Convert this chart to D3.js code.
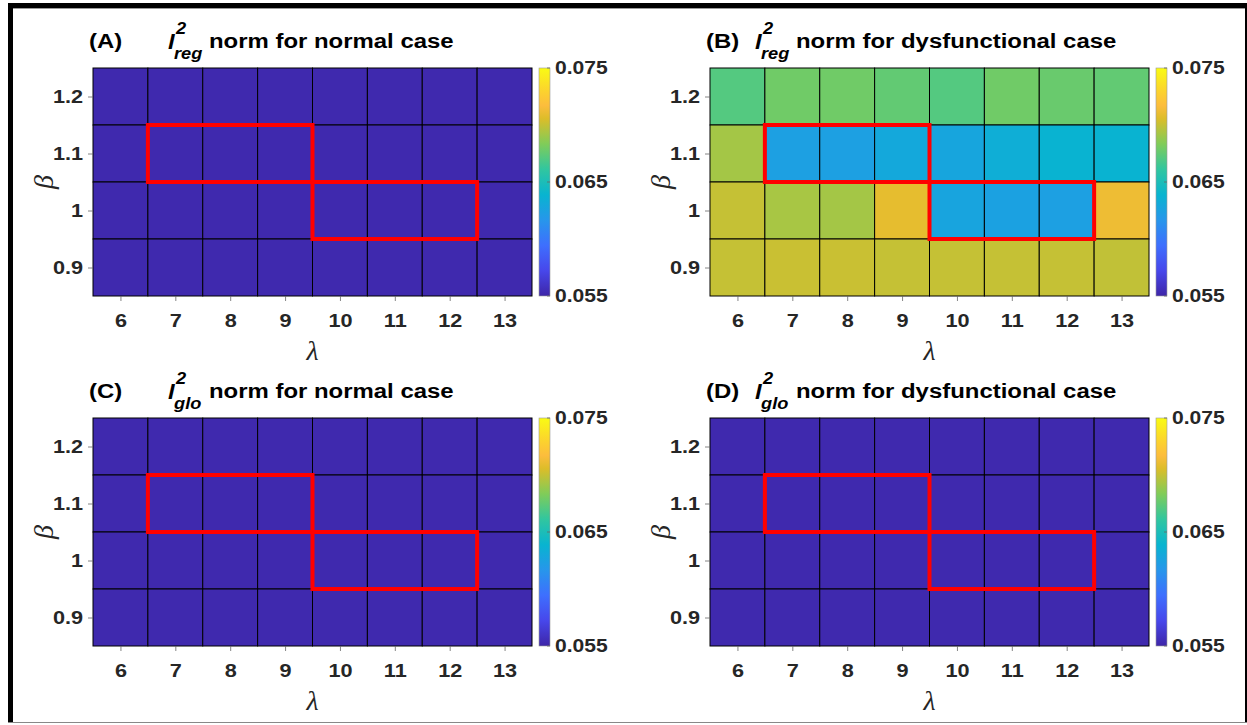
<!DOCTYPE html>
<html lang="en">
<head>
<meta charset="UTF-8">
<title>l2 norm heatmaps</title>
<script src="https://d3js.org/d3.v7.min.js"></script>
<style>
  body { margin: 0; background: #fff; }
  text { font-family: "Liberation Sans", Arial, Helvetica, sans-serif; fill: #262626; }
  .title text { fill: #000; font-weight: bold; }
  .greek { font-family: "Liberation Serif", "DejaVu Serif", serif; font-style: italic; }
</style>
</head>
<body>
<svg id="fig"></svg>
<script>
// grid axes
const lambdas = [6, 7, 8, 9, 10, 11, 12, 13];
const betas = [1.2, 1.1, 1, 0.9];          // row order, top to bottom
const yTicks = [0.9, 1, 1.1, 1.2];
const cbTicks = [0.055, 0.065, 0.075];
const cRange = [0.055, 0.075];

// l2 norms, one row per beta (1.2, 1.1, 1, 0.9), one column per lambda (6..13)
const regNormal = [
  [0.0552, 0.0552, 0.0552, 0.0552, 0.0552, 0.0552, 0.0552, 0.0552],
  [0.0552, 0.0552, 0.0552, 0.0552, 0.0552, 0.0552, 0.0552, 0.0552],
  [0.0552, 0.0552, 0.0552, 0.0552, 0.0552, 0.0552, 0.0552, 0.0552],
  [0.0552, 0.0552, 0.0552, 0.0552, 0.0552, 0.0552, 0.0552, 0.0552]
];
const regDys = [
  [0.0671, 0.0679, 0.0679, 0.0675, 0.0671, 0.0679, 0.0677, 0.0675],
  [0.0692, 0.0624, 0.0624, 0.0630, 0.0628, 0.0634, 0.0638, 0.0638],
  [0.0700, 0.0693, 0.0692, 0.0709, 0.0627, 0.0625, 0.0624, 0.0712],
  [0.0700, 0.0701, 0.0701, 0.0700, 0.0700, 0.0700, 0.0700, 0.0699]
];
const gloNormal = [
  [0.0552, 0.0552, 0.0552, 0.0552, 0.0552, 0.0552, 0.0552, 0.0552],
  [0.0552, 0.0552, 0.0552, 0.0552, 0.0552, 0.0552, 0.0552, 0.0552],
  [0.0552, 0.0552, 0.0552, 0.0552, 0.0552, 0.0552, 0.0552, 0.0552],
  [0.0552, 0.0552, 0.0552, 0.0552, 0.0552, 0.0552, 0.0552, 0.0552]
];
const gloDys = [
  [0.0552, 0.0552, 0.0552, 0.0552, 0.0552, 0.0552, 0.0552, 0.0552],
  [0.0552, 0.0552, 0.0552, 0.0552, 0.0552, 0.0552, 0.0552, 0.0552],
  [0.0552, 0.0552, 0.0552, 0.0552, 0.0552, 0.0552, 0.0552, 0.0552],
  [0.0552, 0.0552, 0.0552, 0.0552, 0.0552, 0.0552, 0.0552, 0.0552]
];

// highlighted regions (lambda range, beta range)
const boxes = [
  { l0: 6.5, l1: 9.5, b0: 1.05, b1: 1.15 },
  { l0: 9.5, l1: 12.5, b0: 0.95, b1: 1.05 }
];

// parula-like colormap stops
const cmapT = [0, 0.111, 0.222, 0.333, 0.444, 0.556, 0.667, 0.778, 0.835, 0.889, 1];
const cmapC = ["#3e26a8", "#4747eb", "#3e6ffe", "#2796eb", "#08b4d0", "#31c69f",
               "#80cc59", "#dcbd29", "#fcbd3d", "#fccf30", "#f9fb14"];

const W = 1247, H = 725;
const S = 1.14;          // the figure is slightly stretched horizontally
const PW = 439, PH = 228;

const svg = d3.select("#fig").attr("width", W).attr("height", H);

// frame
svg.append("rect").attr("x", 8).attr("y", 3).attr("width", 1239).attr("height", 5).attr("fill", "#000");
svg.append("rect").attr("x", 8).attr("y", 3).attr("width", 5).attr("height", 720).attr("fill", "#000");
svg.append("rect").attr("x", 1245).attr("y", 3).attr("width", 2).attr("height", 720).attr("fill", "#000");
svg.append("line").attr("x1", 13).attr("x2", 1245).attr("y1", 8.5).attr("y2", 8.5).attr("stroke", "#999");
svg.append("line").attr("x1", 8).attr("x2", 1247).attr("y1", 722.5).attr("y2", 722.5).attr("stroke", "#888");

const color = d3.scaleLinear()
  .domain(cmapT.map(t => cRange[0] + t * (cRange[1] - cRange[0])))
  .range(cmapC)
  .interpolate(d3.interpolateRgb)
  .clamp(true);

// gradient for colorbars
const grad = svg.append("defs").append("linearGradient")
  .attr("id", "cbar").attr("x1", 0).attr("x2", 0).attr("y1", 1).attr("y2", 0);
grad.selectAll("stop").data(cmapT).join("stop")
  .attr("offset", d => d)
  .attr("stop-color", (d, i) => cmapC[i]);

const panels = [
  { tag: "(A)", sub: "reg", name: "norm for normal case", data: regNormal, left: 93, top: 68, lOff: 75, nOff: 116 },
  { tag: "(B)", sub: "reg", name: "norm for dysfunctional case", data: regDys, left: 710, top: 68, lOff: 45, nOff: 86 },
  { tag: "(C)", sub: "glo", name: "norm for normal case", data: gloNormal, left: 93, top: 418, lOff: 75, nOff: 116 },
  { tag: "(D)", sub: "glo", name: "norm for dysfunctional case", data: gloDys, left: 710, top: 418, lOff: 45, nOff: 86 }
];

function stext(g, x, y, str, size) {
  return g.append("text")
    .attr("transform", `translate(${x},${y}) scale(${S},1)`)
    .attr("font-size", size)
    .text(str);
}

panels.forEach(p => {
  const g = svg.append("g");
  const x = d3.scaleLinear().domain([5.5, 13.5]).range([p.left, p.left + PW]);
  const y = d3.scaleLinear().domain([0.85, 1.25]).range([p.top + PH, p.top]);

  // title: (X)  l^2_sub  norm for ...
  const t = g.append("g").attr("class", "title");
  const base = p.top - 20;
  const lx = p.left + p.lOff;
  stext(t, p.left - 4, base, p.tag, 21);
  stext(t, lx, base + 1, "l", 21).attr("font-style", "italic");
  stext(t, lx + 8, base - 14, "2", 16).attr("font-style", "italic");
  stext(t, lx + 6, base + 11, p.sub, 16).attr("font-style", "italic");
  stext(t, p.left + p.nOff, base, p.name, 21);

  // cells
  const cells = [];
  p.data.forEach((row, i) => row.forEach((v, j) => cells.push({ l: lambdas[j], b: betas[i], v })));
  g.append("g").selectAll("rect").data(cells).join("rect")
    .attr("x", d => x(d.l - 0.5))
    .attr("y", d => y(d.b + 0.05))
    .attr("width", d => x(d.l + 0.5) - x(d.l - 0.5))
    .attr("height", d => y(d.b - 0.05) - y(d.b + 0.05))
    .attr("fill", d => color(d.v))
    .attr("stroke", "#000")
    .attr("stroke-width", 1);

  // highlight boxes
  g.append("g").selectAll("rect").data(boxes).join("rect")
    .attr("x", d => x(d.l0))
    .attr("y", d => y(d.b1))
    .attr("width", d => x(d.l1) - x(d.l0))
    .attr("height", d => y(d.b0) - y(d.b1))
    .attr("fill", "none")
    .attr("stroke", "#ff0000")
    .attr("stroke-width", 4);

  // axes
  const gx = g.append("g").attr("transform", `translate(0,${p.top + PH})`)
    .call(d3.axisBottom(x).tickValues(lambdas).tickSize(5).tickPadding(13));
  const gy = g.append("g").attr("transform", `translate(${p.left},0)`)
    .call(d3.axisLeft(y).tickValues(yTicks).tickSize(5).tickPadding(5).tickFormat(d => String(d)));
  [gx, gy].forEach(a => {
    a.select(".domain").remove();
    a.selectAll(".tick line").attr("stroke", "#666").attr("stroke-width", 0.8);
    a.selectAll(".tick text")
      .attr("font-size", 19).attr("font-weight", "bold")
      .attr("font-family", "Liberation Sans, Arial, sans-serif")
      .attr("fill", "#262626")
      .attr("transform", `scale(${S},1)`);
  });
  gy.selectAll(".tick text").attr("x", -10 / S);

  // axis labels
  g.append("text").attr("class", "greek")
    .attr("x", p.left + PW / 2).attr("y", p.top + PH + 64)
    .attr("text-anchor", "middle").attr("font-size", 28)
    .text("λ");
  g.append("text").attr("class", "greek")
    .attr("transform", `translate(${p.left - 50},${p.top + PH / 2}) rotate(-90)`)
    .attr("text-anchor", "middle").attr("dy", "0.35em").attr("font-size", 28)
    .text("β");

  // colorbar
  const cx = p.left + PW + 7, cw = 11;
  const cy = d3.scaleLinear().domain(cRange).range([p.top + PH, p.top]);
  g.append("rect").attr("x", cx).attr("y", p.top).attr("width", cw).attr("height", PH)
    .attr("fill", "url(#cbar)").attr("stroke", "#999").attr("stroke-width", 0.6);
  g.append("g").selectAll("line").data(cbTicks).join("line")
    .attr("x1", cx + cw - 3).attr("x2", cx + cw)
    .attr("y1", d => cy(d)).attr("y2", d => cy(d))
    .attr("stroke", "#666").attr("stroke-width", 0.8);
  g.append("g").selectAll("text").data(cbTicks).join("text")
    .attr("transform", d => `translate(${cx + cw + 5},${cy(d)}) scale(${S},1)`)
    .attr("dy", "0.35em")
    .attr("font-size", 18.5).attr("font-weight", "bold")
    .text(d => d3.format(".3f")(d));
});
</script>
</body>
</html>
